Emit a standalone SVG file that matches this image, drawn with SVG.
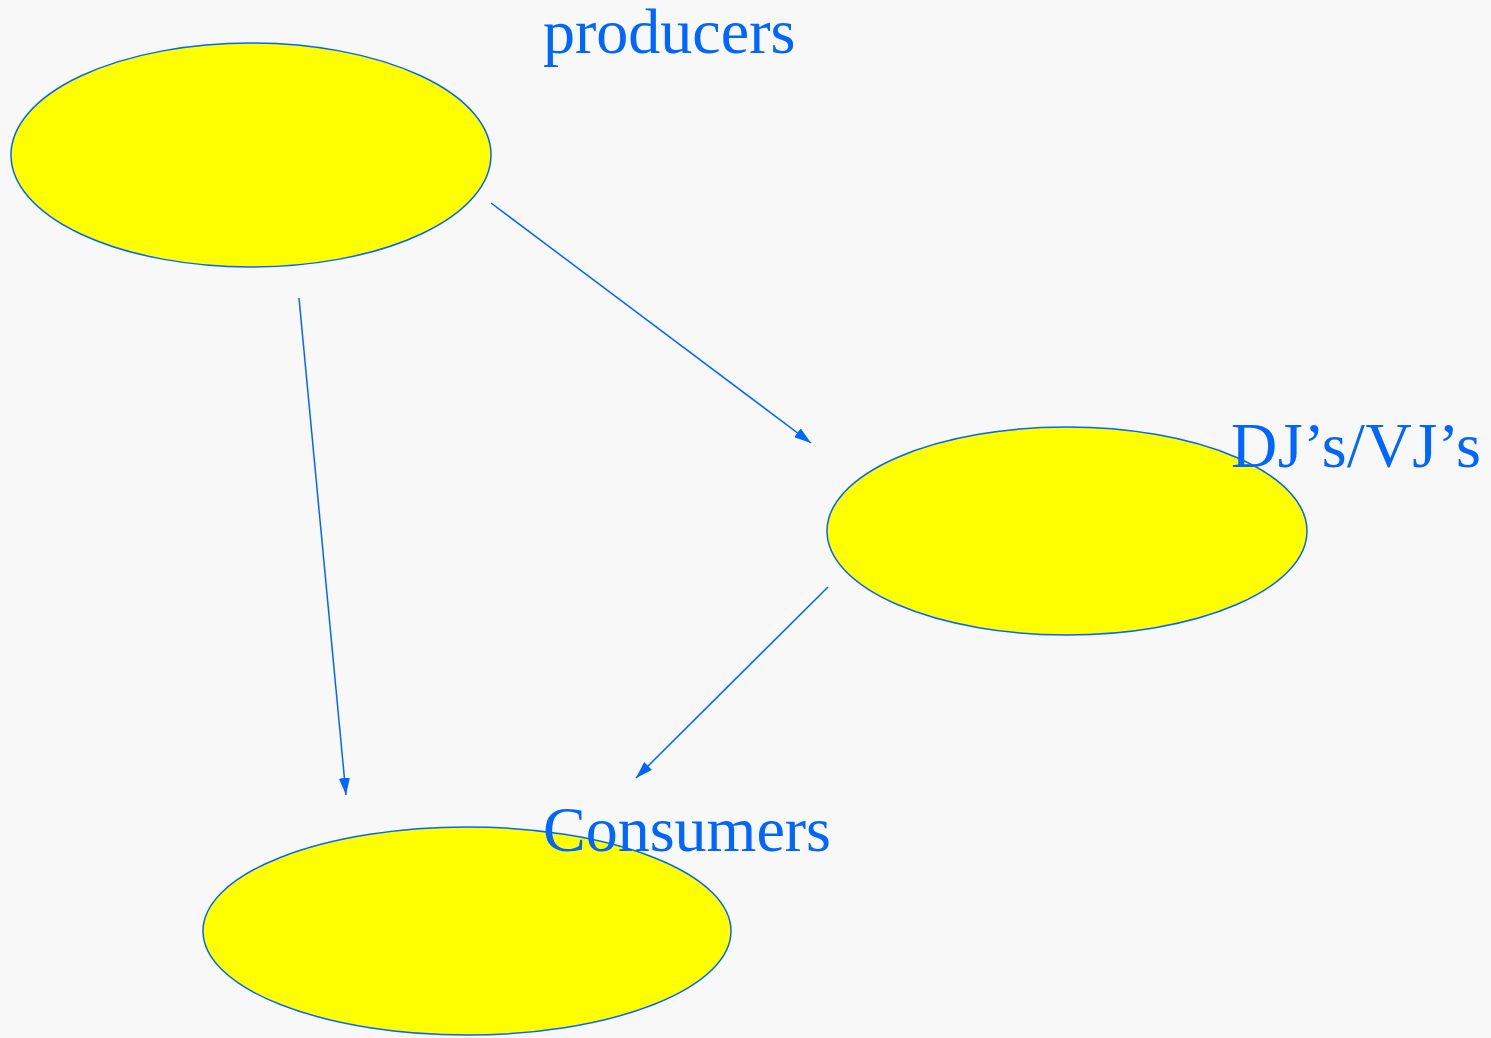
<svg xmlns="http://www.w3.org/2000/svg" width="1491" height="1038" viewBox="0 0 1491 1038">
<style>
.node{fill:#ffff00;stroke:#0066ff;stroke-width:1.5}
.edge{stroke:#0066ff;stroke-width:1.5;fill:none}
.lbl{font-family:"Liberation Serif","Times New Roman",serif;font-size:64px;fill:#0066ff}
</style>
<defs>
<marker id="ah" viewBox="0 0 17 11" refX="17" refY="5.5" markerWidth="17" markerHeight="11" markerUnits="userSpaceOnUse" orient="auto">
<path d="M0,0 L17,5.5 L0,11 Z" fill="#0066ff"/>
</marker>
</defs>
<rect width="1491" height="1038" fill="#f8f8f8"/>
<g id="producers">
<ellipse class="node" cx="251" cy="155" rx="240" ry="112"/>
<text class="lbl" x="543" y="53">producers</text>
</g>
<g id="djs">
<ellipse class="node" cx="1067" cy="531" rx="240" ry="104"/>
<text class="lbl" x="1231" y="467" textLength="250" lengthAdjust="spacing">DJ’s/VJ’s</text>
</g>
<g id="consumers">
<ellipse class="node" cx="467" cy="931" rx="264" ry="104"/>
<text class="lbl" x="543" y="851">Consumers</text>
</g>
<g id="connectors">
<line class="edge" x1="491" y1="203" x2="811" y2="443" marker-end="url(#ah)"/>
<line class="edge" x1="299" y1="298" x2="346" y2="795" marker-end="url(#ah)"/>
<line class="edge" x1="828" y1="587" x2="636" y2="778" marker-end="url(#ah)"/>
</g>
</svg>
